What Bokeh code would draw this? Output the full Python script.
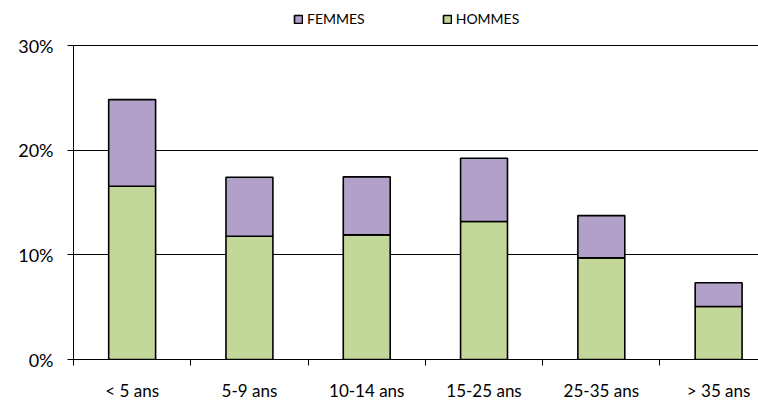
from bokeh.plotting import figure
from bokeh.models import Range1d, FixedTicker, Legend, LegendItem, ColumnDataSource
from bokeh.embed import file_html
from bokeh.resources import INLINE

categories = ["< 5 ans", "5-9 ans", "10-14 ans", "15-25 ans", "25-35 ans", "> 35 ans"]
hommes = [16.55, 11.78, 11.91, 13.18, 9.71, 5.06]
femmes = [8.28, 5.63, 5.54, 6.05, 4.04, 2.27]
y_ticks = [0, 10, 20, 30]
y_labels = ["0%", "10%", "20%", "30%"]

FONT = "Lato"
pos = [i + 0.5 for i in range(len(categories))]
src = ColumnDataSource(dict(x=pos, hommes=hommes, femmes=femmes))

# frame spans the legend area too; axis line limited to 0-30 with bounds
p = figure(width=758, height=403, output_backend="svg", toolbar_location=None,
           x_range=Range1d(0, 5.84), y_range=Range1d(0, 34.3),
           min_border_left=73, min_border_right=0, min_border_top=0, min_border_bottom=44)
p.outline_line_color = None
p.background_fill_color = "white"

r = p.vbar_stack(["hommes", "femmes"], x="x", width=0.4, source=src,
                 fill_color=["#C4D79B", "#B1A0C7"], line_color="black", line_width=1.6)

# axes
p.xaxis.ticker = FixedTicker(ticks=pos, minor_ticks=list(range(len(categories) + 1)))
p.xaxis.major_label_overrides = {pv: c for pv, c in zip(pos, categories)}
p.xaxis.major_tick_out = 0
p.xaxis.major_tick_in = 0
p.xaxis.minor_tick_out = 6
p.xaxis.minor_tick_in = 0
p.xaxis.minor_tick_line_color = "black"
p.xaxis.axis_line_color = "black"
p.xaxis.major_label_standoff = 14
p.xaxis.major_label_text_font = FONT
p.xaxis.major_label_text_font_size = "17px"
p.xaxis.major_label_text_color = "black"

p.yaxis.ticker = FixedTicker(ticks=y_ticks, minor_ticks=[])
p.yaxis.bounds = (0, 30)
p.yaxis.major_label_overrides = {t: l for t, l in zip(y_ticks, y_labels)}
p.yaxis.major_tick_out = 6
p.yaxis.major_tick_in = 0
p.yaxis.axis_line_color = "black"
p.yaxis.major_tick_line_color = "black"
p.yaxis.major_label_standoff = 14
p.yaxis.major_label_text_font = FONT
p.yaxis.major_label_text_font_size = "18px"
p.yaxis.major_label_text_color = "black"

p.xgrid.grid_line_color = None
p.ygrid.ticker = FixedTicker(ticks=y_ticks[1:])
p.ygrid.grid_line_color = "black"
p.ygrid.grid_line_width = 1

legend = Legend(items=[LegendItem(label="FEMMES", renderers=[r[1]]),
                       LegendItem(label="HOMMES", renderers=[r[0]])],
                orientation="horizontal", location=(220, 332),
                glyph_width=10, glyph_height=10, label_standoff=4, spacing=77,
                padding=0, margin=0, border_line_color=None, background_fill_alpha=0,
                label_text_font=FONT, label_text_font_size="14px", label_height=12,
                label_text_color="black")
p.add_layout(legend, "center")

open("out.html", "w").write(file_html(p, INLINE))
